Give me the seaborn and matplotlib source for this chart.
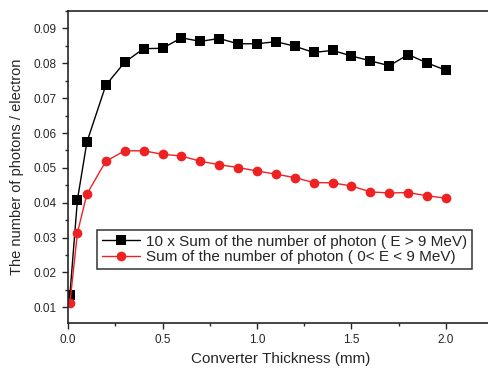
import matplotlib
matplotlib.use("Agg")
import matplotlib.pyplot as plt
from matplotlib.ticker import MultipleLocator
import pandas as pd
import seaborn as sns

# thickness (mm)
thickness = [0.01, 0.05, 0.1, 0.2, 0.3, 0.4, 0.5, 0.6, 0.7, 0.8, 0.9, 1.0,
             1.1, 1.2, 1.3, 1.4, 1.5, 1.6, 1.7, 1.8, 1.9, 2.0]
# 10 x photons above 9 MeV
high_e = [0.0135, 0.0409, 0.0574, 0.0737, 0.0803, 0.0842, 0.0843, 0.0873,
          0.0863, 0.0871, 0.0856, 0.0856, 0.0862, 0.0849, 0.0831, 0.0837,
          0.0821, 0.0807, 0.0793, 0.0825, 0.0801, 0.0780]
# photons 0 < E < 9 MeV
low_e = [0.0112, 0.0314, 0.0425, 0.0519, 0.0549, 0.0549, 0.0539, 0.0534,
         0.0519, 0.0509, 0.0501, 0.0491, 0.0482, 0.0472, 0.0458, 0.0457,
         0.0448, 0.0431, 0.0428, 0.0429, 0.0420, 0.0413]

labels = ["10 x Sum of the number of photon ( E > 9 MeV)",
          "Sum of the number of photon ( 0< E < 9 MeV)"]

df = pd.DataFrame({
    "thickness": thickness * 2,
    "value": high_e + low_e,
    "series": [labels[0]] * len(thickness) + [labels[1]] * len(thickness),
})

sns.set_style("ticks")
plt.rcParams["font.family"] = ["Liberation Sans", "DejaVu Sans"]

fig = plt.figure(figsize=(4.89, 3.72), dpi=100)
# axes run past the right edge of the picture, like the original
ax = fig.add_axes([68 / 489, 1 - 323 / 372, 2.25 * 189 / 489, (323 - 11) / 372])

sns.lineplot(data=df, x="thickness", y="value", hue="series", style="series",
             palette={labels[0]: "black", labels[1]: "#ee2222"},
             markers={labels[0]: "s", labels[1]: "o"}, dashes=False,
             markersize=7, linewidth=1, markeredgewidth=0, ax=ax)

ax.set_xlim(0, 2.25)
ax.set_ylim(0.0055, 0.095)
ax.xaxis.set_major_locator(MultipleLocator(0.5))
ax.xaxis.set_minor_locator(MultipleLocator(0.25))
ax.yaxis.set_major_locator(MultipleLocator(0.01))
ax.yaxis.set_minor_locator(MultipleLocator(0.005))
ax.tick_params(which="major", direction="out", length=4, width=1, labelsize=8.5, pad=4)
ax.tick_params(which="minor", direction="out", length=2.5, width=1)
for s in ax.spines.values():
    s.set_linewidth(1.2)

ax.set_xlabel("Converter Thickness (mm)", fontsize=11, labelpad=4)
ax.set_ylabel("The number of photons / electron", fontsize=10.5, labelpad=7)

ax_w = 2.25 * 189
ax_h = 323 - 11
leg = ax.legend(loc="upper left", bbox_to_anchor=((97 - 68) / ax_w, (323 - 230) / ax_h),
                fontsize=11, frameon=True, fancybox=False,
                borderpad=0.3, labelspacing=0.1, handlelength=2.5, handletextpad=0.4,
                borderaxespad=0)
leg.get_frame().set_edgecolor("black")
leg.get_frame().set_linewidth(1.1)

fig.savefig("out.png", dpi=100)
